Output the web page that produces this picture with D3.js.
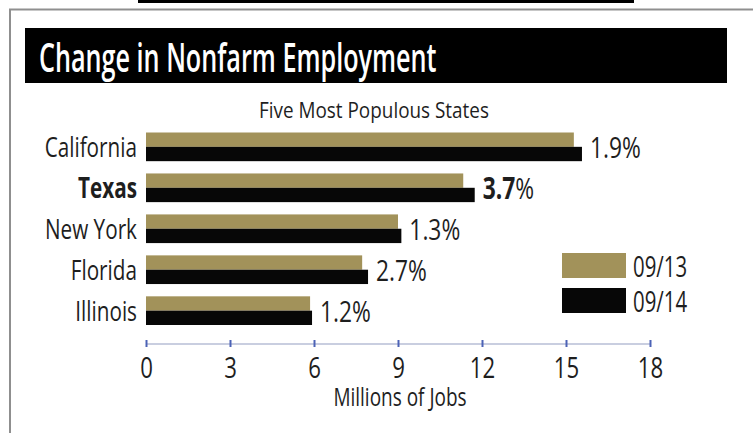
<!DOCTYPE html>
<html>
<head>
<meta charset="utf-8">
<script src="https://cdn.jsdelivr.net/npm/d3@7"></script>
<style>
  html, body { margin: 0; padding: 0; background: #fff; }
  svg { display: block; }
  text { font-family: "Open Sans", "Noto Sans", sans-serif; fill: #1e1e1e; }
</style>
</head>
<body>
<svg id="chart" width="753" height="433"></svg>
<script>
// Nonfarm employment, millions of jobs, September of each year
const states = ["California", "Texas", "New York", "Florida", "Illinois"];
const jobsSep13 = [15.28, 11.33, 9.00, 7.72, 5.86];
const jobsSep14 = [15.57, 11.74, 9.12, 7.93, 5.93];
const pctChange = [1.9, 3.7, 1.3, 2.7, 1.2];
const seriesNames = ["09/13", "09/14"];
const seriesColors = ["#a2925a", "#070707"];
const xTicks = [0, 3, 6, 9, 12, 15, 18];
const highlightState = "Texas";

const titleText = "Change in Nonfarm Employment";
const subtitleText = "Five Most Populous States";
const xAxisTitle = "Millions of Jobs";

const svg = d3.select("#chart");

// condensed lettering: scale glyphs horizontally around the anchor point
const SQ = 0.74;
function place(sel, x, y, k = SQ) {
  return sel.attr("transform", `translate(${x},${y}) scale(${k},1)`);
}

// thin black rule at the very top
svg.append("rect").attr("x", 138).attr("y", 0).attr("width", 496).attr("height", 3).attr("fill", "#000");

// panel frame (left and top edges)
svg.append("path")
  .attr("d", "M10,433V9.5H753")
  .attr("fill", "none").attr("stroke", "#8f8f8f").attr("stroke-width", 2);

// title banner
svg.append("rect").attr("x", 25).attr("y", 28).attr("width", 702).attr("height", 55).attr("fill", "#000");
place(svg.append("text"), 39, 72, 0.63)
  .attr("font-size", 40).attr("font-weight", 600).style("fill", "#fff").text(titleText);

// subtitle
place(svg.append("text"), 374, 118, 0.9)
  .attr("text-anchor", "middle").attr("font-size", 21).text(subtitleText);

// scales
const x = d3.scaleLinear().domain([0, 18]).range([146, 650]);
const y = d3.scaleBand().domain(states).range([132.5, 325]).paddingInner(0.3).paddingOuter(0);
const sub = d3.scaleBand().domain(seriesNames).range([0, y.bandwidth()]);

const rows = states.map((s, i) => ({
  state: s,
  values: [jobsSep13[i], jobsSep14[i]],
  pct: pctChange[i]
}));

// bars
const g = svg.append("g");
const row = g.selectAll("g.row").data(rows).join("g")
  .attr("class", "row")
  .attr("transform", d => `translate(0,${y(d.state)})`);

row.selectAll("rect").data(d => d.values.map((v, j) => ({ v, j })))
  .join("rect")
  .attr("x", x(0))
  .attr("y", d => sub(seriesNames[d.j]))
  .attr("width", d => x(d.v) - x(0))
  .attr("height", sub.bandwidth())
  .attr("fill", d => seriesColors[d.j]);

// state labels
row.append("text")
  .each(function (d) {
    place(d3.select(this), 137, y.bandwidth() / 2 + 10);
  })
  .attr("text-anchor", "end")
  .attr("font-size", 28)
  .attr("font-weight", d => d.state === highlightState ? 700 : 400)
  .text(d => d.state);

// percent change labels
row.append("text")
  .each(function (d) {
    place(d3.select(this), x(d.values[1]) + 8, y.bandwidth() / 2 + 11, 0.76);
  })
  .attr("font-size", 30)
  .each(function (d) {
    const t = d3.select(this);
    t.append("tspan")
      .attr("font-weight", d.state === highlightState ? 700 : 400)
      .text(d3.format(".1f")(d.pct));
    t.append("tspan").text("%");
  });

// x axis
const axisY = 344;
const axis = svg.append("g").attr("transform", `translate(0,${axisY})`)
  .call(d3.axisBottom(x).tickValues(xTicks).tickSize(0).tickSizeOuter(0).tickFormat(""));
axis.select(".domain").remove();
axis.insert("line", ":first-child")
  .attr("x1", x(0)).attr("x2", x(18))
  .attr("stroke", "#c9cee0").attr("stroke-width", 2);
axis.selectAll(".tick").append("line")
  .attr("y1", -4).attr("y2", 3)
  .attr("stroke", "#4c63b6").attr("stroke-width", 2);
axis.selectAll(".tick").append("text")
  .each(function (d) { place(d3.select(this), 0, 34); })
  .attr("text-anchor", "middle").attr("font-size", 30).attr("fill", "#1e1e1e")
  .text(d => d);

place(svg.append("text"), 400, 406, 0.76)
  .attr("text-anchor", "middle").attr("font-size", 25).text(xAxisTitle);

// legend
const legend = svg.append("g").attr("transform", "translate(562,253)");
const li = legend.selectAll("g").data(seriesNames).join("g")
  .attr("transform", (d, i) => `translate(0,${i * 35})`);
li.append("rect").attr("width", 64).attr("height", 25).attr("fill", (d, i) => seriesColors[i]);
li.append("text")
  .each(function () { place(d3.select(this), 71, 23.5, 0.68); })
  .attr("font-size", 30).text(d => d);
</script>
</body>
</html>
